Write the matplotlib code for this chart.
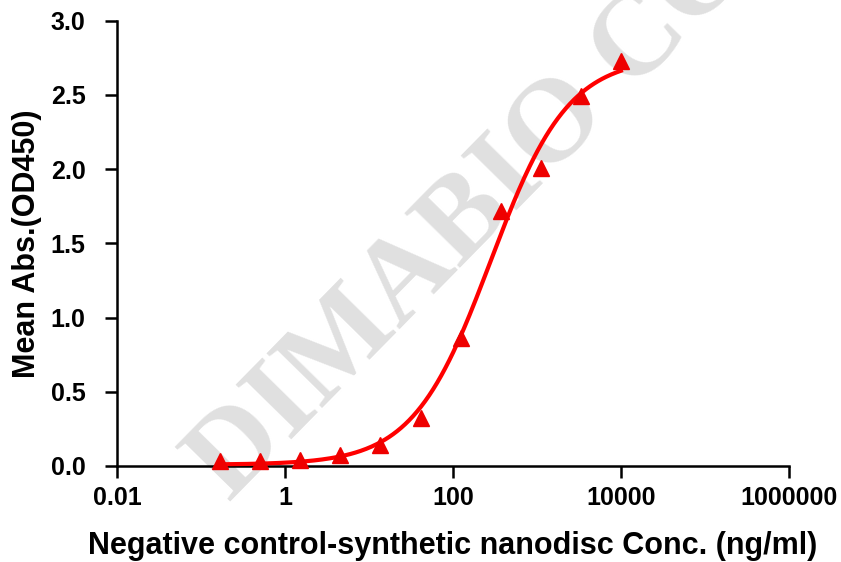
import numpy as np
import matplotlib
matplotlib.use('Agg')
import matplotlib.pyplot as plt
from matplotlib.ticker import FixedLocator, FixedFormatter

# data (3-fold dilution series)
conc = [0.169, 0.508, 1.52, 4.57, 13.7, 41.2, 123.5, 370, 1111, 3333, 10000]
od450 = [0.03, 0.03, 0.04, 0.075, 0.14, 0.32, 0.86, 1.715, 2.01, 2.49, 2.73]

x_ticks = [0.01, 1, 100, 10000, 1000000]
x_tick_labels = ['0.01', '1', '100', '10000', '1000000']
y_ticks = [0.0, 0.5, 1.0, 1.5, 2.0, 2.5, 3.0]
y_tick_labels = ['0.0', '0.5', '1.0', '1.5', '2.0', '2.5', '3.0']


def four_pl(x, bottom, top, ec50, hill):
    return bottom + (top - bottom) / (1 + (ec50 / x) ** hill)


# 4PL fit: grid over ec50/hill, bottom/top by linear least squares
def fit_4pl(x, y):
    x = np.asarray(x, float)
    y = np.asarray(y, float)
    best = None
    for lec in np.linspace(0, 4.5, 451):
        for h in np.linspace(0.4, 2.5, 211):
            s = 1 / (1 + (10 ** lec / x) ** h)
            A = np.column_stack([1 - s, s])
            coef, *_ = np.linalg.lstsq(A, y, rcond=None)
            err = np.sum((A @ coef - y) ** 2)
            if best is None or err < best[0]:
                best = (err, coef[0], coef[1], 10 ** lec, h)
    return best[1:]


bottom, top, ec50, hill = fit_4pl(conc, od450)
xs = np.logspace(np.log10(min(conc)), np.log10(max(conc)), 300)

plt.rcParams['font.family'] = ['Liberation Sans', 'DejaVu Sans']
plt.rcParams['font.weight'] = 'bold'

fig = plt.figure(figsize=(8.41, 5.62), dpi=100)
ax = fig.add_axes([0.139, 0.171, 0.799, 0.792])

# watermark
ax.text(230 / 841, 1 - 503 / 562, 'DIMABIO CO., LTD.', transform=fig.transFigure,
        rotation=45.5, rotation_mode='anchor', ha='left', va='baseline',
        fontsize=85, family='Liberation Serif', fontweight='bold',
        color='#e0e0e0', zorder=0, clip_on=False)

ax.plot(xs, four_pl(xs, bottom, top, ec50, hill), color='#ff0000', lw=3, zorder=3,
        clip_on=False)
ax.plot(conc, od450, linestyle='none', marker='^', ms=12, color='#ee0000',
        zorder=4, clip_on=False)

ax.set_xscale('log')
ax.set_xlim(0.01, 1000000)
ax.set_ylim(0, 3.0)
ax.xaxis.set_major_locator(FixedLocator(x_ticks))
ax.xaxis.set_major_formatter(FixedFormatter(x_tick_labels))
ax.xaxis.set_minor_locator(FixedLocator([]))
ax.yaxis.set_major_locator(FixedLocator(y_ticks))
ax.yaxis.set_major_formatter(FixedFormatter(y_tick_labels))

for side in ['top', 'right']:
    ax.spines[side].set_visible(False)
for side in ['left', 'bottom']:
    ax.spines[side].set_linewidth(1.8)
ax.patch.set_alpha(0)
ax.tick_params(axis='both', direction='out', length=8.5, width=1.8, labelsize=18)
ax.tick_params(axis='x', pad=6)
ax.tick_params(axis='y', pad=14)

ax.set_xlabel('Negative control-synthetic nanodisc Conc. (ng/ml)', fontsize=22,
              fontweight='bold', labelpad=15)
ax.set_ylabel('Mean Abs.(OD450)', fontsize=22, fontweight='bold', labelpad=6)

fig.savefig('out.png', dpi=100)
